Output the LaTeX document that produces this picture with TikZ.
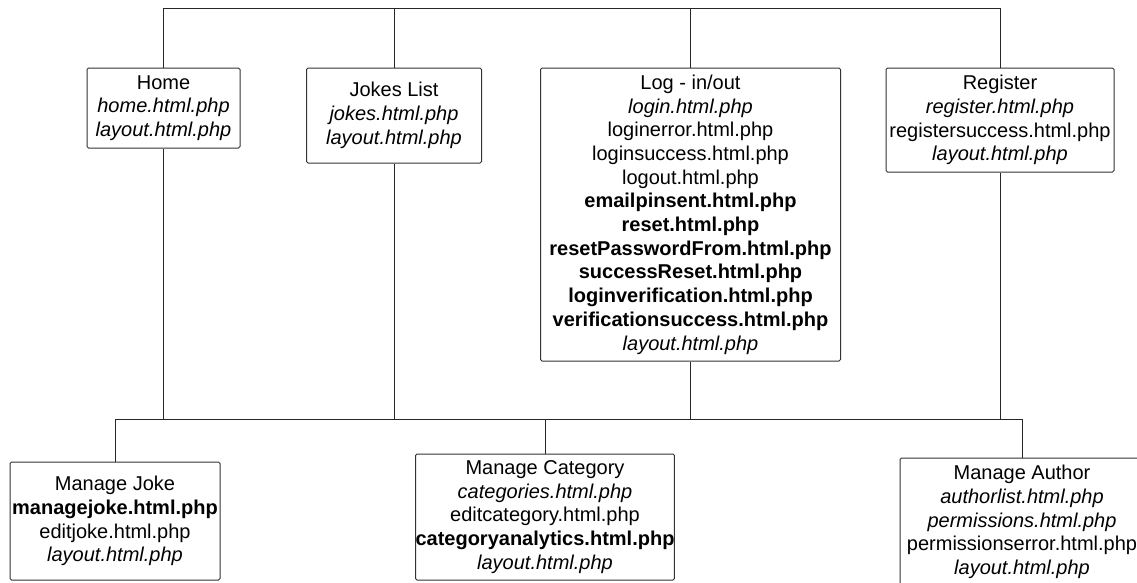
\documentclass[tikz,border=0pt]{standalone}
\usepackage{fontspec}
\setmainfont{Liberation Sans}

\begin{document}
\begin{tikzpicture}[
    x=1pt,
    y=-1pt,
    page/.style={
        draw=black!80,
        line width=1pt,
        rounded corners=1.5pt,
        align=center,
        inner sep=0pt,
        font=\fontsize{20}{23.7}\selectfont,
    },
    wire/.style={
        draw=black!85,
        line width=1pt,
    }
]
    \useasboundingbox (0,0) rectangle (1137,582);
    \clip (0,0) rectangle (1137,582);

    % Top row
    \node[page, minimum width=153pt, minimum height=80pt] (home) at (163.5,108)
        {Home\\\textit{home.html.php}\\\textit{layout.html.php}};
    \node[page, minimum width=175pt, minimum height=95pt] (jokes) at (394,115.5)
        {Jokes List\\\textit{jokes.html.php}\\\textit{layout.html.php}};
    \node[page, minimum width=300pt, minimum height=293pt] (log) at (690.5,214.5)
        {Log - in/out\\\textit{login.html.php}\\loginerror.html.php\\loginsuccess.html.php\\logout.html.php\\
         \textbf{emailpinsent.html.php}\\\textbf{reset.html.php}\\\textbf{resetPasswordFrom.html.php}\\
         \textbf{successReset.html.php}\\\textbf{loginverification.html.php}\\\textbf{verificationsuccess.html.php}\\
         \textit{layout.html.php}};
    \node[page, minimum width=228pt, minimum height=104pt] (reg) at (1000,120)
        {Register\\\textit{register.html.php}\\registersuccess.html.php\\\textit{layout.html.php}};

    % Bottom row
    \node[page, minimum width=210pt, minimum height=118pt] (joke) at (115,521)
        {Manage Joke\\\textbf{managejoke.html.php}\\editjoke.html.php\\\textit{layout.html.php}};
    \node[page, minimum width=256pt, minimum height=126pt] (cat) at (545,517)
        {Manage Category\\\textit{categories.html.php}\\editcategory.html.php\\\textbf{categoryanalytics.html.php}\\\textit{layout.html.php}};
    \node[page, minimum width=244pt, minimum height=128pt] (author) at (1022,522)
        {Manage Author\\\textit{authorlist.html.php}\\\textit{permissions.html.php}\\permissionserror.html.php\\\textit{layout.html.php}};

    % Buses
    \coordinate (topbus) at (0,8);
    \coordinate (lowbus) at (0,419.5);

    \draw[wire] (home.north) -- (home.north |- topbus) -- (reg.north |- topbus) -- (reg.north);
    \draw[wire] (jokes.north) -- (jokes.north |- topbus);
    \draw[wire] (log.north) -- (log.north |- topbus);

    \draw[wire] (joke.north) -- (joke.north |- lowbus) -- (author.north |- lowbus) -- (author.north);
    \draw[wire] (home.south) -- (home.south |- lowbus);
    \draw[wire] (jokes.south) -- (jokes.south |- lowbus);
    \draw[wire] (log.south) -- (log.south |- lowbus);
    \draw[wire] (reg.south) -- (reg.south |- lowbus);
    \draw[wire] (cat.north) -- (cat.north |- lowbus);
\end{tikzpicture}
\end{document}
